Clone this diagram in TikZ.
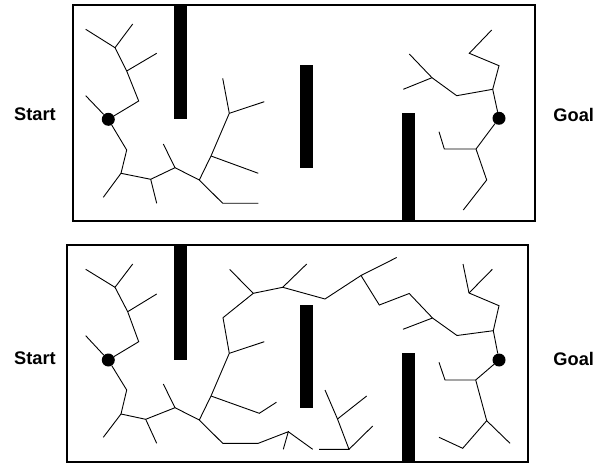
\documentclass[tikz,border=0pt]{standalone}
\usepackage{fontspec}
\setmainfont{Liberation Sans}
\begin{document}
\begin{tikzpicture}[x=1bp,y=-1bp,
  tree/.style={line width=0.9bp},
  frame/.style={line width=2.3bp},
  bar/.style={fill=black},
  dot/.style={circle,fill=black,inner sep=0pt,minimum size=13bp},
  lbl/.style={font=\fontsize{18.3}{21}\selectfont\bfseries,anchor=base,inner sep=0pt}]
\useasboundingbox (0,0) rectangle (595,463);

% ---------- top panel ----------
\draw[frame] (73,5) rectangle (535,220.7);
\fill[bar] (174.3,5) rectangle (187,119.3);
\fill[bar] (300,65) rectangle (313.3,167.7);
\fill[bar] (402.3,113.3) rectangle (415,220.7);
\node[dot] (ts) at (108.3,119.3) {};
\node[dot] (tg) at (499,118.3) {};
\node[lbl] (tstart) at (35,121) {Start};
\node[lbl] (tgoal) at (573.7,121.5) {Goal};

\coordinate (tA) at (85.7,29.3);
\coordinate (tB) at (115,47.7);
\coordinate (tC) at (132.7,24);
\coordinate (tD) at (126.7,71);
\coordinate (tE) at (156.7,53.3);
\coordinate (tF) at (138.7,101);
\coordinate (tG) at (85.7,95.7);
\coordinate (tH) at (126.7,150);
\coordinate (tI) at (121,173.3);
\coordinate (tJ) at (103.3,197.3);
\coordinate (tK) at (150.7,179.3);
\coordinate (tL) at (156.7,203.3);
\coordinate (tM) at (175,167.7);
\coordinate (tN) at (163.3,144);
\coordinate (tO) at (199.3,180);
\coordinate (tP) at (222.7,203.3);
\coordinate (tQ) at (258.3,203.3);
\coordinate (tR) at (211,156);
\coordinate (tS) at (258.3,173.3);
\coordinate (tT) at (229.3,113.3);
\coordinate (tU) at (222.7,78.3);
\coordinate (tV) at (264.3,101.7);

\draw[tree] (tA) -- (tB) -- (tD) -- (tF) -- (ts) -- (tG);
\draw[tree] (tB) -- (tC);
\draw[tree] (tD) -- (tE);
\draw[tree] (ts) -- (tH) -- (tI) -- (tJ);
\draw[tree] (tI) -- (tK) -- (tL);
\draw[tree] (tK) -- (tM) -- (tN);
\draw[tree] (tM) -- (tO) -- (tP) -- (tQ);
\draw[tree] (tO) -- (tR) -- (tT) -- (tU);
\draw[tree] (tR) -- (tS);
\draw[tree] (tT) -- (tV);

\coordinate (tp1) at (409.3,54);
\coordinate (tp2) at (432,77.7);
\coordinate (tp3) at (403.3,89.3);
\coordinate (tp4) at (456.7,95.7);
\coordinate (tp5) at (492.7,89.3);
\coordinate (tp6) at (499,65.7);
\coordinate (tp7) at (469.3,53.3);
\coordinate (tp8) at (491.7,30);
\coordinate (tq1) at (476,149);
\coordinate (tq2) at (444.3,149);
\coordinate (tq3) at (439,131.7);
\coordinate (tq4) at (486.7,180);
\coordinate (tq5) at (463.3,210);

\draw[tree] (tp1) -- (tp2) -- (tp4) -- (tp5) -- (tp6) -- (tp7) -- (tp8);
\draw[tree] (tp3) -- (tp2);
\draw[tree] (tp5) -- (tg);
\draw[tree] (tg) -- (tq1) -- (tq2) -- (tq3);
\draw[tree] (tq1) -- (tq4) -- (tq5);

% ---------- bottom panel ----------
\draw[frame] (66.8,245.2) rectangle (528.3,461.8);
\fill[bar] (174.3,245.2) rectangle (187,360);
\fill[bar] (300,305) rectangle (313.3,407.7);
\fill[bar] (402,353.3) rectangle (415,461.8);
\node[dot] (bs) at (108.3,360) {};
\node[dot] (bg) at (499,360) {};
\node[lbl] (bstart) at (35,364.5) {Start};
\node[lbl] (bgoal) at (573.7,365) {Goal};

\coordinate (bA) at (85.7,269.3);
\coordinate (bB) at (115,287.3);
\coordinate (bC) at (132.7,264);
\coordinate (bD) at (127.7,311.7);
\coordinate (bE) at (156.7,294);
\coordinate (bF) at (138.7,341.7);
\coordinate (bG) at (85.7,335.7);
\coordinate (bH) at (126.7,390);
\coordinate (bI) at (121,414);
\coordinate (bJ) at (103.3,437.3);
\coordinate (bK) at (145.7,419.3);
\coordinate (bL) at (156.7,443.3);
\coordinate (bM) at (175,407.7);
\coordinate (bN) at (163.3,384);
\coordinate (bO) at (199.3,420);
\coordinate (bP) at (222.7,443.3);
\coordinate (bQ) at (258.3,443.3);
\coordinate (bQ2) at (288.3,431.7);
\coordinate (bQ3) at (283.3,449.3);
\coordinate (bQ4) at (312.7,449.3);
\coordinate (bR) at (211,396);
\coordinate (bS) at (259.3,413.3);
\coordinate (bS2) at (276.5,402.2);
\coordinate (bT) at (229.3,353.3);
\coordinate (bV) at (264.3,341.7);
\coordinate (bU) at (223,317.7);
\coordinate (bW) at (253.3,293.3);
\coordinate (bX) at (229.7,269.5);
\coordinate (bY) at (282.7,287.3);
\coordinate (bZ) at (306.7,264);
\coordinate (bAA) at (325,299);
\coordinate (bAB) at (361,275.5);
\coordinate (bAC) at (396.7,257.5);
\coordinate (bAD) at (379.3,305);
\coordinate (bAE) at (409.2,293.5);
\coordinate (bAF) at (432.5,318);
\coordinate (bAG) at (403,329.3);
\coordinate (bAH) at (457,335.5);
\coordinate (bAI) at (493.3,330.7);
\coordinate (bAJ) at (499,305.7);
\coordinate (bAK) at (469,293);
\coordinate (bAL) at (463,264);
\coordinate (bAM) at (492.3,269.3);
\coordinate (bBA) at (475.7,380);
\coordinate (bBB) at (445,380);
\coordinate (bBC) at (439,362.3);
\coordinate (bBD) at (486.7,420.7);
\coordinate (bBE) at (462.7,448.3);
\coordinate (bBF) at (439,437.3);
\coordinate (bBG) at (510,443.3);
\coordinate (bZ1) at (325,390);
\coordinate (bZ2) at (337.5,419);
\coordinate (bZ3) at (366.7,396);
\coordinate (bZ4) at (349,449.3);
\coordinate (bZ5) at (319,449.3);
\coordinate (bZ6) at (372.7,426);

\draw[tree] (bA) -- (bB) -- (bD) -- (bF) -- (bs) -- (bG);
\draw[tree] (bB) -- (bC);
\draw[tree] (bD) -- (bE);
\draw[tree] (bs) -- (bH) -- (bI) -- (bJ);
\draw[tree] (bI) -- (bK) -- (bL);
\draw[tree] (bK) -- (bM) -- (bN);
\draw[tree] (bM) -- (bO) -- (bP) -- (bQ) -- (bQ2) -- (bQ3);
\draw[tree] (bQ2) -- (bQ4);
\draw[tree] (bO) -- (bR) -- (bT) -- (bU) -- (bW) -- (bX);
\draw[tree] (bR) -- (bS) -- (bS2);
\draw[tree] (bT) -- (bV);
\draw[tree] (bW) -- (bY) -- (bZ);
\draw[tree] (bY) -- (bAA) -- (bAB) -- (bAC);
\draw[tree] (bAB) -- (bAD) -- (bAE) -- (bAF) -- (bAG);
\draw[tree] (bAF) -- (bAH) -- (bAI) -- (bAJ) -- (bAK) -- (bAL);
\draw[tree] (bAK) -- (bAM);
\draw[tree] (bAI) -- (bg);
\draw[tree] (bg) -- (bBA) -- (bBB) -- (bBC);
\draw[tree] (bBA) -- (bBD) -- (bBE) -- (bBF);
\draw[tree] (bBD) -- (bBG);
\draw[tree] (bZ1) -- (bZ2) -- (bZ4) -- (bZ5);
\draw[tree] (bZ2) -- (bZ3);
\draw[tree] (bZ4) -- (bZ6);
\end{tikzpicture}
\end{document}
